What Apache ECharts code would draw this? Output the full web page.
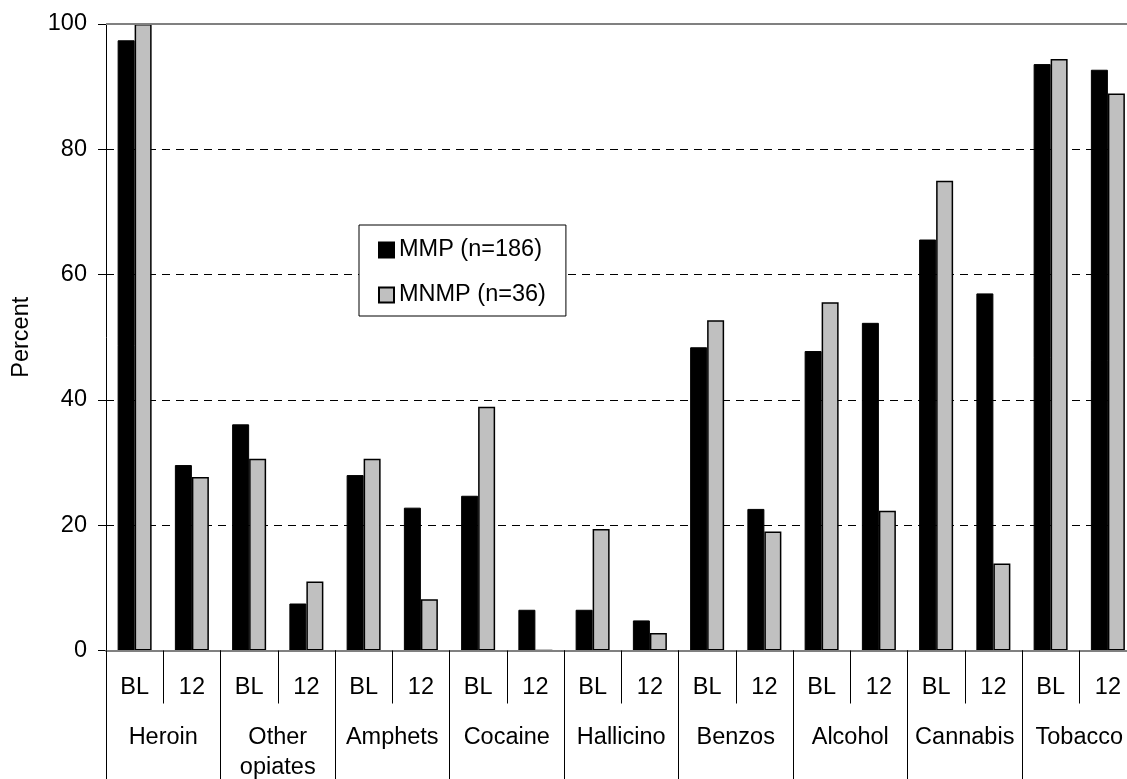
<!DOCTYPE html>
<html>
<head>
<meta charset="utf-8">
<script src="https://cdn.jsdelivr.net/npm/echarts@6/dist/echarts.min.js"></script>
<style>
html,body{margin:0;padding:0;background:#fff;}
#chart{width:1127px;height:779px;}
</style>
</head>
<body>
<div id="chart"></div>
<script>
const timepoints = ['BL','12','BL','12','BL','12','BL','12','BL','12','BL','12','BL','12','BL','12','BL','12'];
const substances = ['Heroin','Other\nopiates','Amphets','Cocaine','Hallicino','Benzos','Alcohol','Cannabis','Tobacco'];
const mmp =  [97.4, 29.6, 36.1, 7.5, 28.0, 22.8, 24.7, 6.5, 6.5, 4.8, 48.4, 22.6, 47.8, 52.3, 65.6, 57.0, 93.6, 92.7];
const mnmp = [100, 27.7, 30.6, 11.0, 30.6, 8.2, 38.9, 0, 19.4, 2.8, 52.7, 19.0, 55.6, 22.3, 75.0, 13.9, 94.4, 88.9];
const yTicks = [0, 20, 40, 60, 80, 100];
const seriesNames = ['MMP (n=186)', 'MNMP (n=36)'];

const FONT = '"Liberation Sans", Arial, sans-serif';
const FS = 23.5;
const chart = echarts.init(document.getElementById('chart'), null, {renderer: 'canvas'});
chart.setOption({
  animation: false,
  backgroundColor: '#fff',
  textStyle: {fontFamily: FONT, color: '#000'},
  grid: {left: 106, top: 24, width: 1030.5, height: 626.5, containLabel: false, outerBoundsMode: 'none'},
  legend: {
    orient: 'vertical',
    left: 359, top: 225,
    padding: [13, 20, 9, 19],
    itemGap: 21,
    itemWidth: 15, itemHeight: 15,
    itemTextGap: 5,
    backgroundColor: '#fff',
    borderColor: '#000', borderWidth: 1,
    textStyle: {fontFamily: FONT, fontSize: FS, color: '#000', lineHeight: 24},
    data: seriesNames.map(n => ({name: n, icon: 'rect'}))
  },
  xAxis: [
    {
      type: 'category', data: timepoints, position: 'bottom', z: 5,
      axisLine: {show: true, lineStyle: {color: '#808080', width: 2}},
      axisTick: {show: true, interval: 0, length: 53, lineStyle: {color: '#000', width: 1}},
      axisLabel: {interval: 0, margin: 25, fontSize: FS, fontFamily: FONT, color: '#000', lineHeight: 24},
      splitLine: {show: false}
    },
    {
      type: 'category', data: substances, position: 'bottom', z: 5,
      axisLine: {show: false},
      axisTick: {show: true, interval: 0, length: 140, lineStyle: {color: '#000', width: 1}},
      axisLabel: {interval: 0, margin: 72, fontSize: FS, fontFamily: FONT, color: '#000', lineHeight: 30},
      splitLine: {show: false}
    }
  ],
  yAxis: {
    type: 'value', min: 0, max: 100, interval: 20,
    name: 'Percent', nameLocation: 'middle', nameRotate: 90, nameGap: 72,
    nameTextStyle: {fontFamily: FONT, fontSize: FS, color: '#000'},
    axisLine: {show: true, lineStyle: {color: '#000', width: 1}},
    axisTick: {show: true, length: 8, lineStyle: {color: '#000', width: 1}},
    axisLabel: {margin: 19, fontSize: FS, fontFamily: FONT, color: '#000',
      formatter: v => yTicks.includes(v) ? String(v) : ''},
    splitLine: {show: true, lineStyle: {color: '#000', width: 1, type: [8, 6]}}
  },
  series: [
    {
      name: seriesNames[0], type: 'bar', data: mmp, xAxisIndex: 0,
      barWidth: 17, barGap: '0%',
      itemStyle: {color: '#000', borderColor: '#000', borderWidth: 1},
      markLine: {
        silent: true, symbol: 'none', label: {show: false},
        lineStyle: {color: '#808080', width: 2, type: 'solid'},
        data: [{yAxis: 100}]
      }
    },
    {
      name: seriesNames[1], type: 'bar', data: mnmp, xAxisIndex: 0,
      barWidth: 17, barGap: '0%',
      itemStyle: {color: '#c0c0c0', borderColor: '#000', borderWidth: 1.5}
    }
  ]
});
</script>
</body>
</html>
